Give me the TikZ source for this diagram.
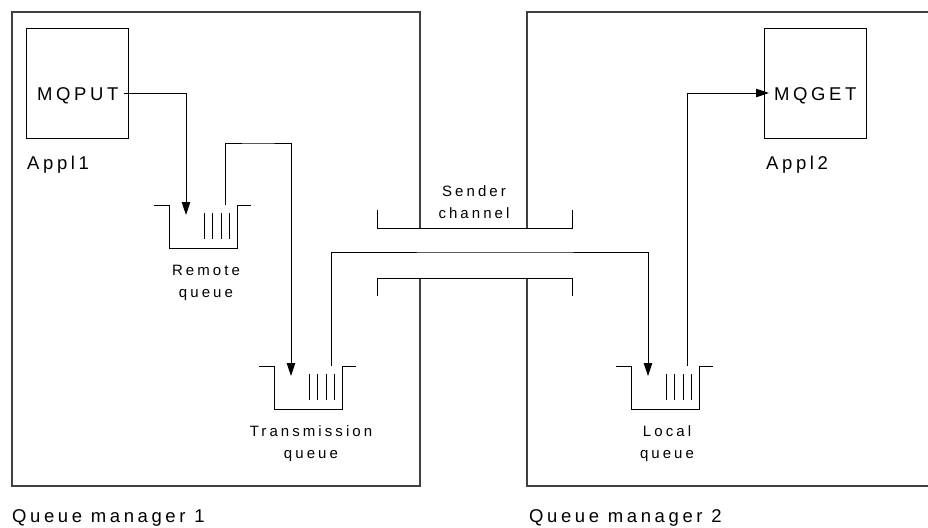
\documentclass[tikz,border=0pt]{standalone}
\usepackage{fontspec}
\setmainfont{Liberation Sans}
\newfontfamily\bigf[LetterSpace=19.5]{Liberation Sans}
\newfontfamily\smallf[LetterSpace=20.5]{Liberation Sans}
\usetikzlibrary{arrows.meta}
\begin{document}
\begin{tikzpicture}[x=1pt,y=-1pt,
  frame/.style={draw=black!75,line width=1.1pt},
  ln/.style={draw=black,line width=0.9pt},
  flow/.style={ln,-{Triangle[length=13pt,width=8.5pt]}},
  bigt/.style={font=\fontsize{18.5}{20}\selectfont\bigf,inner sep=0pt},
  smallt/.style={font=\fontsize{15}{22}\selectfont\smallf,inner sep=0pt,align=center},
  queue/.pic={
    \draw[ln] (-15,0) -- (0,0) -- (0,43) -- (68,43) -- (68,0) -- (82,0);
    \foreach \bx in {35,43,52,60} \draw[line width=0.8pt] (\bx,8) -- (\bx,34);
  }]
\useasboundingbox (0,0) rectangle (928,527);
% queue managers
\draw[frame] (420,228) -- (420,12) -- (12,12) -- (12,486) -- (420,486) -- (420,278);
\draw[frame] (527,228) -- (527,12) -- (940,12);
\draw[frame] (527,278) -- (527,486) -- (940,486);
% channel brackets
\draw[ln] (377,210) -- (377,228) -- (572,228) -- (572,210);
\draw[ln] (377,296) -- (377,278) -- (572,278) -- (572,296);
% applications
\node[draw,line width=1pt,minimum width=102pt,minimum height=110pt,anchor=north west,inner sep=0pt] (app1) at (26,28) {};
\node[draw,line width=1pt,minimum width=102pt,minimum height=110pt,anchor=north west,inner sep=0pt] (app2) at (764,28) {};
\node[bigt,anchor=west] (mqput) at (37,96) {MQPUT};
\node[bigt,anchor=west] (mqget) at (774,96) {MQGET};
\node[bigt,anchor=west] (appl1) at (27,165) {Appl1};
\node[bigt,anchor=west] (appl2) at (766,165) {Appl2};
% queues
\pic at (169,205) {queue};
\pic at (274,366) {queue};
\pic at (631,366) {queue};
\coordinate (rq-in) at (186,215);
\coordinate (rq-out) at (225,205);
\coordinate (tq-in) at (291,376);
\coordinate (tq-out) at (331,366);
\coordinate (lq-in) at (648,376);
\coordinate (lq-out) at (687,366);
\coordinate (put-out) at (124,93);
\coordinate (get-in) at (769,93);
\node[smallt] (rql) at (206,283) {Remote\\queue};
\node[smallt] (tql) at (311,444) {Transmission\\queue};
\node[smallt] (lql) at (667,444) {Local\\queue};
\node[smallt] (sc) at (474,202) {Sender\\channel};
\node[bigt,anchor=west] (qm1) at (12,518) {Queue manager 1};
\node[bigt,anchor=west] (qm2) at (529,518) {Queue manager 2};
% flows
\draw[flow] (put-out) -| (rq-in);
\draw[flow] (rq-out) |- (258,143) -| (tq-in);
\draw[flow] (tq-out) |- (500,252) -| (lq-in);
\draw[flow] (lq-out) |- (get-in);
\end{tikzpicture}
\end{document}
